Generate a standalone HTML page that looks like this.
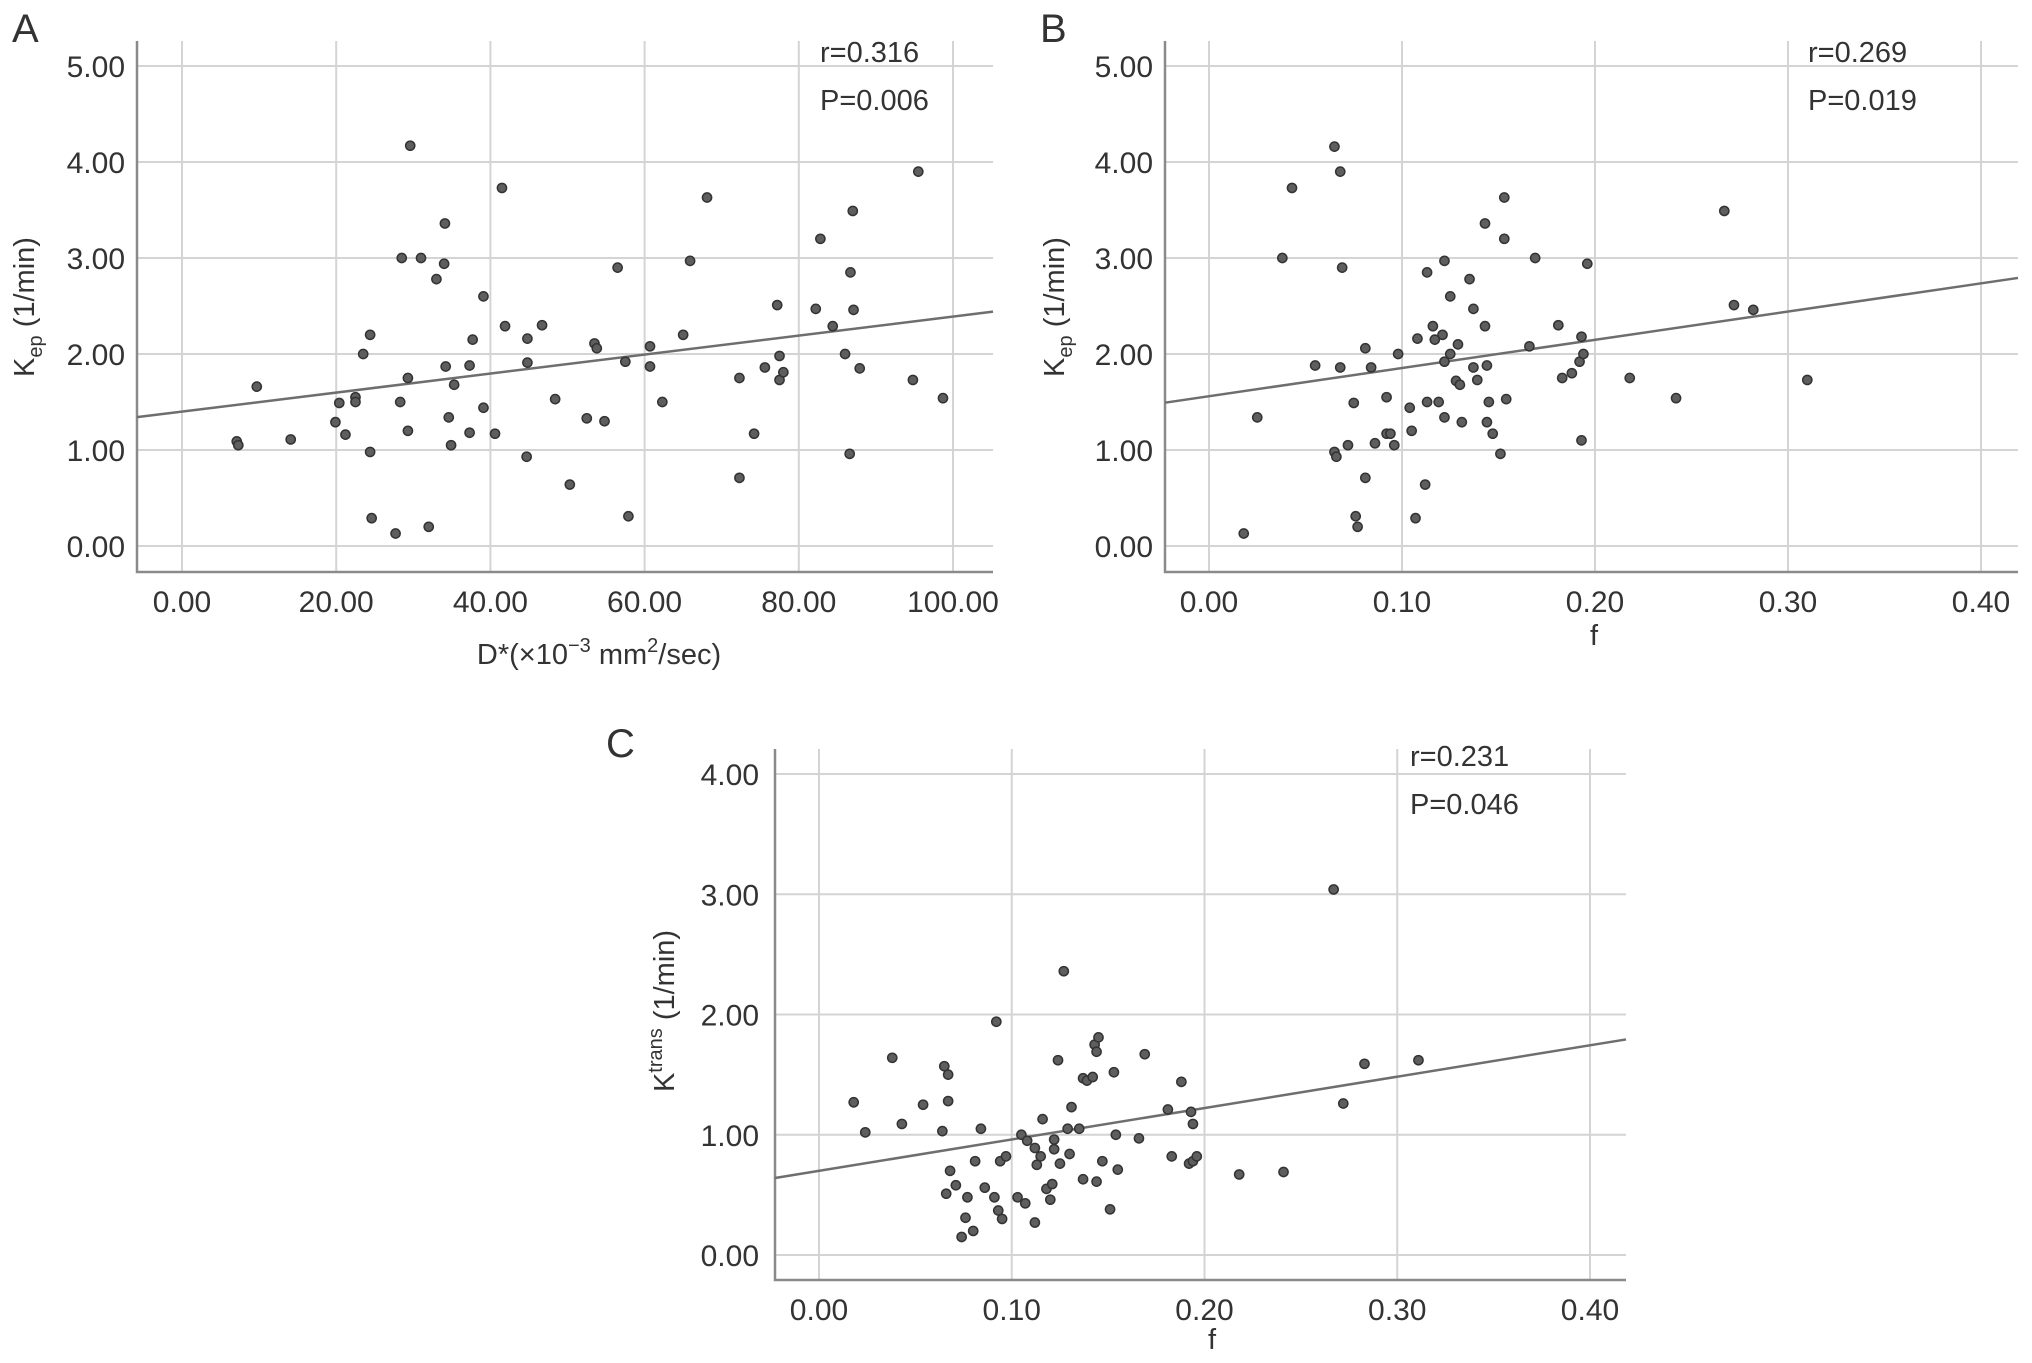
<!DOCTYPE html>
<html><head><meta charset="utf-8"><style>
html,body{margin:0;padding:0;background:#fff}
svg{display:block}
text{font-family:"Liberation Sans",sans-serif;fill:#333}
</style></head><body>
<svg id="fig" width="2032" height="1363" viewBox="0 0 2032 1363" xmlns="http://www.w3.org/2000/svg"></svg>
<script>
// Panel A data
const aX = [7.1,7.3,9.7,14.1,19.9,20.4,21.2,22.5,22.5,23.5,24.4,24.4,24.6,27.7,28.3,28.5,29.3,29.3,29.6,31.0,32.0,33.0,34.0,34.1,34.2,34.6,34.9,35.3,37.3,37.3,37.7,39.1,39.1,40.6,41.5,41.9,44.8,44.8,44.7,46.7,48.4,50.3,52.5,53.5,53.8,54.8,56.5,57.5,57.9,60.7,60.7,62.3,65.0,65.9,68.1,72.3,72.3,74.2,75.6,77.2,77.5,77.5,78.0,82.2,82.8,84.4,86.0,86.6,86.7,87.0,87.1,87.9,94.8,95.5,98.7];
const aY = [1.09,1.05,1.66,1.11,1.29,1.49,1.16,1.55,1.50,2.0,2.2,0.98,0.29,0.13,1.50,3.0,1.75,1.2,4.17,3.0,0.2,2.78,2.94,3.36,1.87,1.34,1.05,1.68,1.88,1.18,2.15,2.6,1.44,1.17,3.73,2.29,2.16,1.91,0.93,2.3,1.53,0.64,1.33,2.11,2.06,1.3,2.9,1.92,0.31,2.08,1.87,1.5,2.2,2.97,3.63,1.75,0.71,1.17,1.86,2.51,1.98,1.73,1.81,2.47,3.2,2.29,2.0,0.96,2.85,3.49,2.46,1.85,1.73,3.9,1.54];
// Panel B data
const bX = [0.018,0.025,0.038,0.043,0.055,0.065,0.068,0.069,0.068,0.065,0.066,0.072,0.075,0.076,0.077,0.081,0.081,0.084,0.086,0.092,0.092,0.094,0.096,0.098,0.104,0.105,0.107,0.108,0.112,0.113,0.113,0.116,0.117,0.119,0.121,0.122,0.122,0.122,0.125,0.125,0.128,0.130,0.129,0.131,0.135,0.137,0.137,0.139,0.143,0.143,0.144,0.144,0.145,0.147,0.151,0.153,0.153,0.154,0.166,0.169,0.181,0.183,0.188,0.192,0.193,0.194,0.193,0.196,0.218,0.242,0.267,0.272,0.282,0.310];
const bY = [0.13,1.34,3.0,3.73,1.88,4.16,3.9,2.9,1.86,0.98,0.93,1.05,1.49,0.31,0.2,2.06,0.71,1.86,1.07,1.55,1.17,1.17,1.05,2.0,1.44,1.2,0.29,2.16,0.64,2.85,1.5,2.29,2.15,1.5,2.2,1.92,2.97,1.34,2.6,2.0,1.72,1.68,2.1,1.29,2.78,2.47,1.86,1.73,3.36,2.29,1.88,1.29,1.5,1.17,0.96,3.63,3.2,1.53,2.08,3.0,2.3,1.75,1.8,1.92,2.18,2.0,1.1,2.94,1.75,1.54,3.49,2.51,2.46,1.73];
// Panel C data
const cX = [0.018,0.024,0.038,0.043,0.054,0.064,0.065,0.067,0.067,0.066,0.068,0.071,0.074,0.076,0.077,0.080,0.081,0.084,0.086,0.091,0.092,0.093,0.094,0.095,0.097,0.103,0.105,0.107,0.108,0.112,0.112,0.113,0.115,0.116,0.118,0.121,0.120,0.122,0.122,0.124,0.125,0.127,0.129,0.130,0.131,0.135,0.137,0.137,0.139,0.142,0.143,0.144,0.145,0.144,0.147,0.151,0.153,0.154,0.155,0.166,0.169,0.181,0.183,0.188,0.193,0.194,0.192,0.194,0.196,0.218,0.241,0.267,0.272,0.283,0.311];
const cY = [1.27,1.02,1.64,1.09,1.25,1.03,1.57,1.50,1.28,0.51,0.70,0.58,0.15,0.31,0.48,0.20,0.78,1.05,0.56,0.48,1.94,0.37,0.78,0.30,0.82,0.48,1.0,0.43,0.95,0.27,0.89,0.75,0.82,1.13,0.55,0.59,0.46,0.96,0.88,1.62,0.76,2.36,1.05,0.84,1.23,1.05,0.63,1.47,1.45,1.48,1.75,1.69,1.81,0.61,0.78,0.38,1.52,1.0,0.71,0.97,1.67,1.21,0.82,1.44,1.19,1.09,0.76,0.78,0.82,0.67,0.69,3.04,1.26,1.59,1.62];
// Regression fits [intercept, slope]
const aFit = [1.40, 0.0099];
const bFit = [1.56, 2.94];
const cFit = [0.70, 2.61];
// Tick labels
const aXTicks = [0,20,40,60,80,100];
const fTicks = [0,0.1,0.2,0.3,0.4];
const kepTicks = [0,1,2,3,4,5];
const ktransTicks = [0,1,2,3,4];

const NS = "http://www.w3.org/2000/svg";
const svg = document.getElementById('fig');
function mk(tag, attrs, parent, text){
  const e = document.createElementNS(NS, tag);
  for (const k in attrs) e.setAttribute(k, attrs[k]);
  if (text !== undefined) e.textContent = text;
  (parent||svg).appendChild(e);
  return e;
}
function panel(p){
  const g = mk('g', {});
  
  
  const sx = v => p.x0 + (v - p.xmin) * (p.x1 - p.x0) / (p.xmax - p.xmin);
  const sy = v => p.y0 - (v - p.ymin) * (p.y0 - p.y1) / (p.ymax - p.ymin);
  p.xt.forEach(v => {
    const l = mk('line', {x1:sx(v), x2:sx(v), y1:p.top, y2:p.bottom, stroke:'#d4d4d4', 'stroke-width':2}, g);
    
    
    const t = mk('text', {x:sx(v), y:p.bottom + 40, 'font-size':30, 'text-anchor':'middle'}, g, v.toFixed(2));
    
    
  });
  p.yt.forEach(v => {
    const l = mk('line', {x1:p.left, x2:p.right, y1:sy(v), y2:sy(v), stroke:'#d4d4d4', 'stroke-width':2}, g);
    
    
    const t = mk('text', {x:p.tickRight, y:sy(v) + 11, 'font-size':30, 'text-anchor':'end'}, g, v.toFixed(2));
    
    
  });
  const ax = mk('path', {d:`M${p.left},${p.top} V${p.bottom} H${p.right}`, fill:'none', stroke:'#8a8a8a', 'stroke-width':2.5}, g);
  
  
  const xa = p.xmin + (p.left - p.x0) * (p.xmax - p.xmin) / (p.x1 - p.x0);
  const xb = p.xmin + (p.right - p.x0) * (p.xmax - p.xmin) / (p.x1 - p.x0);
  const fl = mk('line', {x1:p.left, y1:sy(p.fit[0] + p.fit[1]*xa), x2:p.right, y2:sy(p.fit[0] + p.fit[1]*xb), stroke:'#6e6e6e', 'stroke-width':2.5}, g);
  
  
  p.xs.forEach((v, i) => {
    const c = mk('circle', {cx:sx(v), cy:sy(p.ys[i]), r:4.6, fill:'#5e5e5e', stroke:'#333', 'stroke-width':1.5}, g);
    
    
  });
  const r = mk('text', {x:p.statX, y:p.statY, 'font-size':29}, g, p.r);
  
  
  const pv = mk('text', {x:p.statX, y:p.statY + 48, 'font-size':29}, g, p.p);
  
  
  const L = mk('text', {x:p.letX, y:p.letY, 'font-size':40, fill:'#111'}, g, p.letter);
  
  
  const yt = mk('text', {x:0, y:0, 'font-size':29, 'text-anchor':'middle', transform:`translate(${p.ylx},${p.yly}) rotate(-90)`}, g);
  
  
  mk('tspan', {}, yt, 'K');
  mk('tspan', {'font-size':20, dy: p.ysup ? -12 : 8}, yt, p.ysub);
  mk('tspan', {dy: p.ysup ? 12 : -8}, yt, ' (1/min)');
  const xt = mk('text', {x:p.xlx, y:p.xly, 'font-size':29, 'text-anchor':'middle'}, g);
  
  
  if (p.xtitle === 'D') {
    mk('tspan', {}, xt, 'D*(×10');
    mk('tspan', {'font-size':20, dy:-12}, xt, '−3');
    mk('tspan', {dy:12}, xt, ' mm');
    mk('tspan', {'font-size':20, dy:-12}, xt, '2');
    mk('tspan', {dy:12}, xt, '/sec)');
  } else {
    xt.textContent = 'f';
  }
}
panel({name:'panel-a', xs:aX, ys:aY, fit:aFit, xt:aXTicks, yt:kepTicks,
  xmin:0, xmax:100, x0:182, x1:953, ymin:0, ymax:5, y0:546, y1:66,
  left:137, right:993, top:41, bottom:572, tickRight:125,
  statX:820, statY:62, r:'r=0.316', p:'P=0.006', letter:'A', letX:12, letY:42,
  ylx:34, yly:307, ysub:'ep', ysup:false, xtitle:'D', xlx:599, xly:664});
panel({name:'panel-b', xs:bX, ys:bY, fit:bFit, xt:fTicks, yt:kepTicks,
  xmin:0, xmax:0.4, x0:1209, x1:1981, ymin:0, ymax:5, y0:546, y1:66,
  left:1165, right:2018, top:41, bottom:572, tickRight:1153,
  statX:1808, statY:62, r:'r=0.269', p:'P=0.019', letter:'B', letX:1040, letY:42,
  ylx:1064, yly:307, ysub:'ep', ysup:false, xtitle:'f', xlx:1594, xly:645});
panel({name:'panel-c', xs:cX, ys:cY, fit:cFit, xt:fTicks, yt:ktransTicks,
  xmin:0, xmax:0.4, x0:819, x1:1590, ymin:0, ymax:4, y0:1255, y1:774,
  left:775, right:1626, top:749, bottom:1280, tickRight:759,
  statX:1410, statY:766, r:'r=0.231', p:'P=0.046', letter:'C', letX:606, letY:757,
  ylx:674, yly:1011, ysub:'trans', ysup:true, xtitle:'f', xlx:1212, xly:1349});
</script>
</body></html>
